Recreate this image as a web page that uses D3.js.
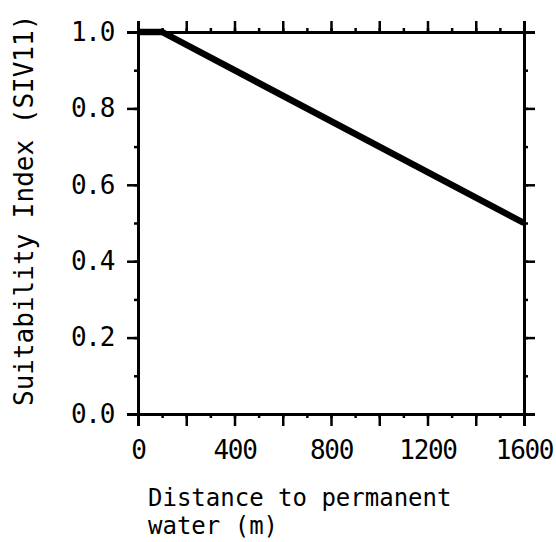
<!DOCTYPE html>
<html><head><meta charset="utf-8">
<script src="https://cdn.jsdelivr.net/npm/d3@7"></script>
<style>body{margin:0;background:#fff}</style>
</head><body>
<svg id="c" width="556" height="542"></svg>
<script>
const distance = [0, 100, 1600];
const suitability = [1.0, 1.0, 0.5];
const xTickLabels = [0, 400, 800, 1200, 1600];
const yTickLabels = [0.0, 0.2, 0.4, 0.6, 0.8, 1.0];
const xTitleLines = ["Distance to permanent", "water (m)"];
const yTitle = "Suitability Index (SIV11)";

const FONT = "'DejaVu Sans Mono', 'Liberation Mono', monospace";
const svg = d3.select("#c");
const L = 138, R = 524, T = 32, B = 414;
const x = d3.scaleLinear().domain([0, 1600]).range([L, R]);
const y = d3.scaleLinear().domain([0, 1]).range([B, T]);

const g = svg.append("g");
function styleAxis(sel) {
  sel.selectAll("path").attr("stroke", "#000").attr("stroke-width", 3);
  sel.selectAll("line").attr("stroke", "#000").attr("stroke-width", 2.5);
  sel.selectAll("text").attr("font-family", FONT).attr("font-size", 26)
     .attr("letter-spacing", -1.3).attr("fill", "#000");
}
const xMinor = d3.range(0, 1601, 100);
const xMajor = d3.range(0, 1601, 200);
const yMinor = d3.range(0, 11).map(i => i / 10);
const yMajor = yTickLabels;

// minor ticks
g.append("g").attr("transform", `translate(0,${B})`)
  .call(d3.axisBottom(x).tickValues(xMinor).tickSize(4).tickFormat("")).call(styleAxis);
g.append("g").attr("transform", `translate(0,${T})`)
  .call(d3.axisTop(x).tickValues(xMinor).tickSize(4).tickFormat("")).call(styleAxis);
g.append("g").attr("transform", `translate(${L},0)`)
  .call(d3.axisLeft(y).tickValues(yMinor).tickSize(4).tickFormat("")).call(styleAxis);
g.append("g").attr("transform", `translate(${R},0)`)
  .call(d3.axisRight(y).tickValues(yMinor).tickSize(4).tickFormat("")).call(styleAxis);

// major ticks
const xb = g.append("g").attr("transform", `translate(0,${B})`)
  .call(d3.axisBottom(x).tickValues(xMajor).tickSize(12).tickPadding(8)
    .tickFormat(d => xTickLabels.includes(d) ? d : "")).call(styleAxis);
xb.selectAll("text").attr("dy", "0.95em");
g.append("g").attr("transform", `translate(0,${T})`)
  .call(d3.axisTop(x).tickValues(xMajor).tickSize(11).tickFormat("")).call(styleAxis);
g.append("g").attr("transform", `translate(${L},0)`)
  .call(d3.axisLeft(y).tickValues(yMajor).tickSize(11).tickPadding(13)
    .tickFormat(d3.format(".1f"))).call(styleAxis);
g.append("g").attr("transform", `translate(${R},0)`)
  .call(d3.axisRight(y).tickValues(yMajor).tickSize(11).tickFormat("")).call(styleAxis);

// data line
const line = d3.line().x((d, i) => x(distance[i])).y(d => y(d));
svg.append("path").datum(suitability)
  .attr("d", line).attr("fill", "none").attr("stroke", "#000")
  .attr("stroke-width", 6.5).attr("stroke-linejoin", "round");

// titles
const xt = svg.append("text").attr("font-family", FONT).attr("font-size", 24).attr("fill", "#000");
xTitleLines.forEach((t, i) => {
  xt.append("tspan").attr("x", 148).attr("y", 506 + i * 28).text(t);
});
svg.append("text").attr("font-family", FONT).attr("font-size", 26).attr("fill", "#000")
  .attr("transform", "translate(33,406) rotate(-90)").attr("text-anchor", "start")
  .text(yTitle);
</script>
</body></html>
